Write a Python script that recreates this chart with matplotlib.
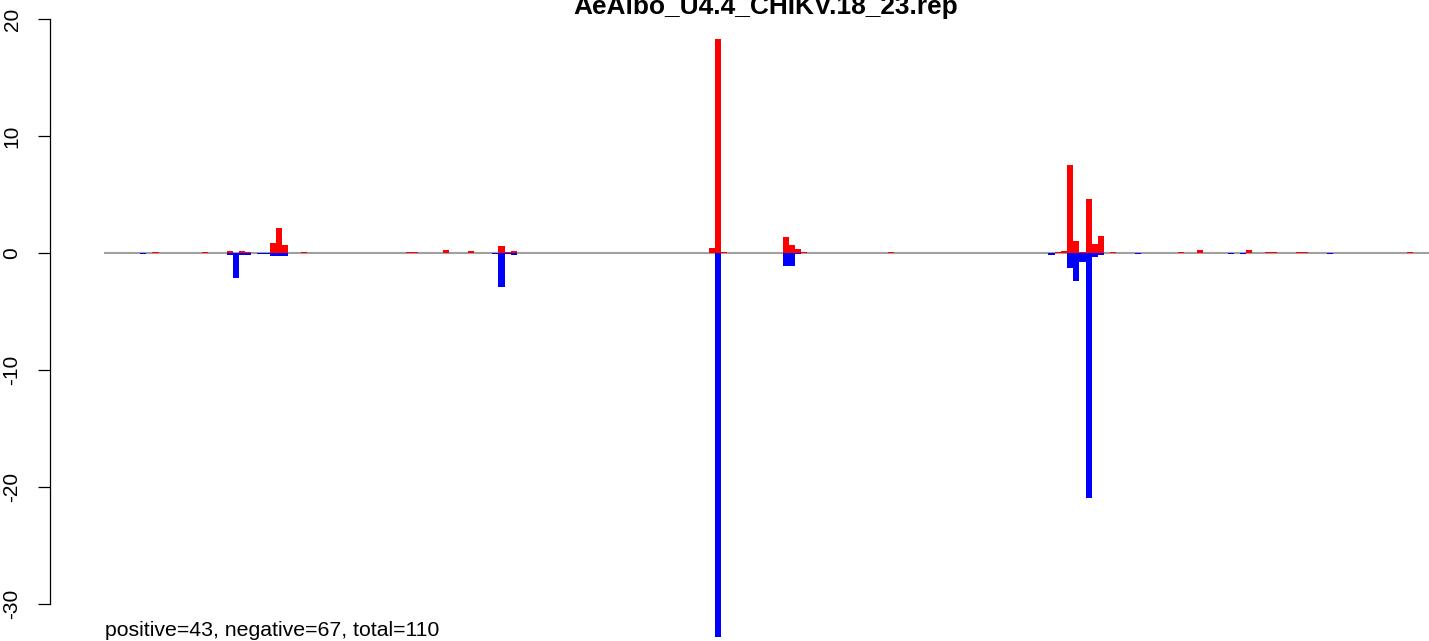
import numpy as np
import matplotlib.pyplot as plt

plt.rcParams['font.family'] = ['Liberation Sans', 'DejaVu Sans']
plt.rcParams['axes.unicode_minus'] = False

title = 'AeAlbo_U4.4_CHIKV.18_23.rep'
summary = 'positive=43, negative=67, total=110'

# bin index -> value
pos_bins = [8, 16, 20, 22, 23, 27, 28, 29, 32, 49, 50, 55, 59, 64, 65, 66,
            98, 99, 100, 110, 111, 112, 113, 127, 154, 155, 156, 157, 158,
            159, 160, 161, 163, 174, 177, 185, 188, 189, 193, 194, 211]
pos_vals = [0.05, 0.05, 0.2, 0.17, 0.1, 0.85, 2.1, 0.7, 0.1, 0.05, 0.05, 0.25,
            0.15, 0.6, 0.1, 0.2, 0.45, 18.3, 0.05, 1.4, 0.7, 0.3, 0.1, 0.05,
            0.05, 0.15, 7.5, 1.0, 0.1, 4.65, 0.77, 1.45, 0.05, 0.05, 0.25,
            0.25, 0.05, 0.05, 0.05, 0.05, 0.05]

neg_bins = [6, 20, 21, 22, 23, 25, 26, 27, 28, 29, 63, 64, 65, 66, 99, 110,
            111, 112, 153, 156, 157, 158, 159, 160, 161, 167, 182, 184, 198]
neg_vals = [-0.1, -0.15, -2.1, -0.15, -0.15, -0.1, -0.1, -0.25, -0.25, -0.25,
            -0.1, -2.9, -0.1, -0.2, -32.8, -1.1, -1.1, -0.1, -0.15, -1.25,
            -2.4, -0.8, -20.9, -0.3, -0.15, -0.1, -0.1, -0.1, -0.1]

yticks = [-30, -20, -10, 0, 10, 20]

W, H = 1429, 641
fig = plt.figure(figsize=(W / 100, H / 100), dpi=100)

# pixel layout: bin k starts at 102.92 + 6.18*k, y=0 at row 253, 11.7 px per unit
bw = 6.18
x0 = 102.92
axis_px = 50
ax = fig.add_axes([axis_px / W, 0, 1 - axis_px / W, 1])
ax.set_xlim((axis_px - x0) / bw, (W - x0) / bw)
ax.set_ylim(-(H - 253) / 11.7, 253 / 11.7)

ax.hlines(0, (104 - x0) / bw, 230, color='#a0a0a0', lw=1.5, zorder=1)
ax.bar(pos_bins, pos_vals, width=1, align='edge', color='#ff0000', lw=0, zorder=2)
ax.bar(neg_bins, neg_vals, width=1, align='edge', color='#0000ff', lw=0, zorder=2)

for s in ['top', 'right', 'bottom']:
    ax.spines[s].set_visible(False)
ax.spines['left'].set_bounds(-30, 20)
ax.spines['left'].set_linewidth(0.9)
ax.set_xticks([])
ax.set_yticks(yticks)
ax.set_yticklabels([str(t) for t in yticks], rotation=90, va='center')
ax.tick_params(axis='y', length=8.5, width=0.9, pad=12, labelsize=15)

fig.text(766 / W, 1 - 14 / H, title, ha='center', va='baseline',
         fontsize=18.9, fontweight='bold')
fig.text(105 / W, 1 - 636 / H, summary, ha='left', va='baseline', fontsize=15.3)

fig.savefig('out.png', dpi=100)
